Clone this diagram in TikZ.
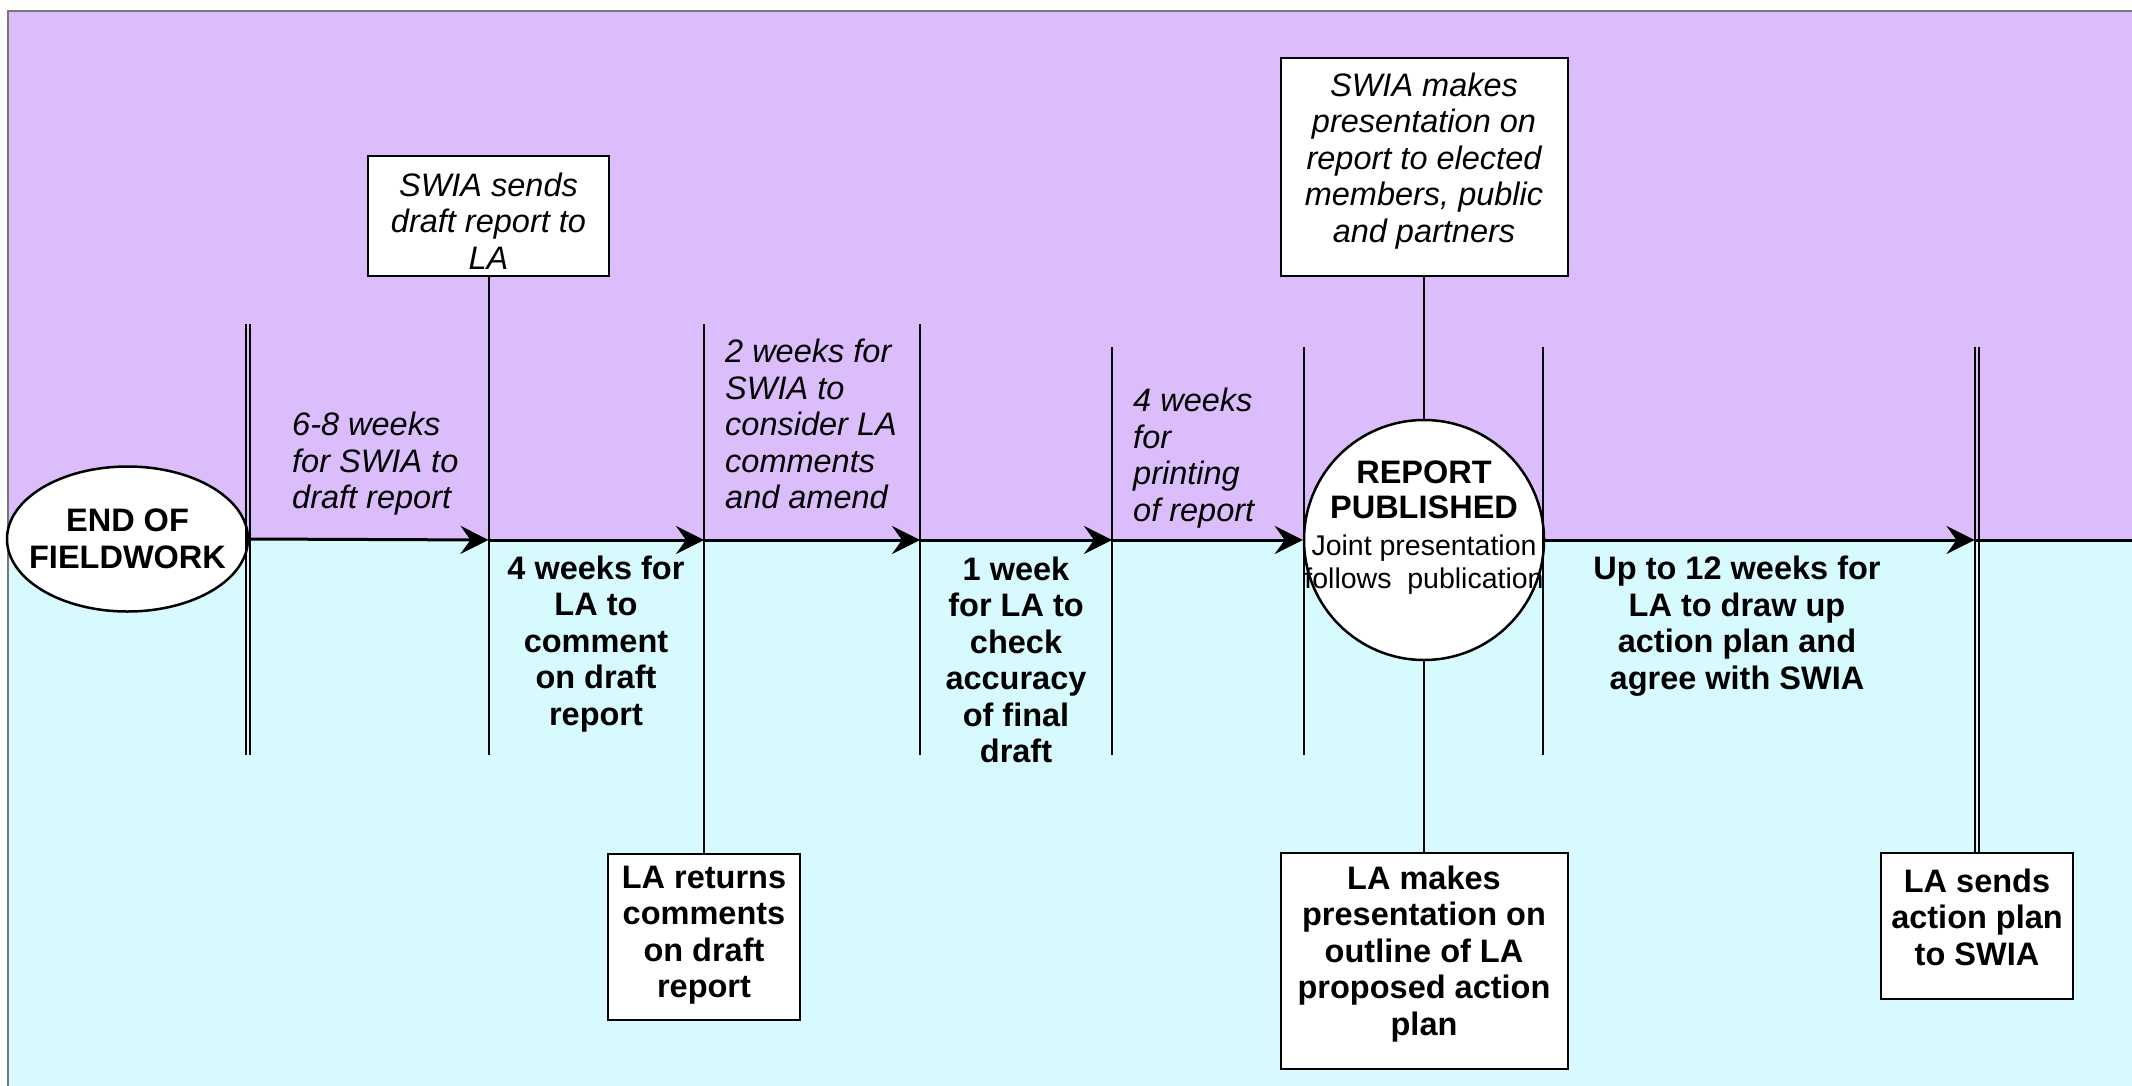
\documentclass[tikz,border=0pt]{standalone}
\usepackage{fontspec}
\setmainfont{Liberation Sans}
\usetikzlibrary{arrows.meta,shapes.geometric}
\definecolor{lav}{RGB}{220,189,251}
\definecolor{aqua}{RGB}{215,250,254}
\definecolor{frame}{RGB}{120,120,120}
\newcommand\tf{\fontsize{32.5}{36.5}\selectfont}
\newcommand\jpf{\fontsize{28.5}{36.5}\selectfont}
\begin{document}
\begin{tikzpicture}[x=1pt,y=-1pt,
  box/.style={draw=black, line width=2pt, fill=white, inner sep=0pt},
  lbl/.style={inner sep=0pt},
  vl/.style={line width=2pt},
  tw/.style={line width=1.5pt},
  ml/.style={line width=3pt},
  arr/.style={ml, -{Stealth[length=28pt,width=28pt,inset=10pt]}},
]
\useasboundingbox (0,0) rectangle (2132,1086);
\fill[white] (0,0) rectangle (2132,1086);
\fill[lav] (8,11) rectangle (2132,540);
\fill[aqua] (8,540) rectangle (2132,1086);
\draw[frame, line width=2.5pt] (8,1086) -- (8,11) -- (2132,11);

% shapes
\node[draw, line width=2.5pt, fill=white, ellipse, minimum width=241pt, minimum height=145pt, inner sep=0pt] (fw) at (127.5,539) {};
\node[circle, draw, line width=2.5pt, fill=white, minimum size=240pt, inner sep=0pt] (pub) at (1424,540) {};
\node[box, minimum width=241pt, minimum height=120pt] (sends) at (488.5,216) {};
\node[box, minimum width=287pt, minimum height=218pt] (swiam) at (1424,167) {};
\node[box, minimum width=192pt, minimum height=166pt] (ret) at (704,937) {};
\node[box, minimum width=287pt, minimum height=216pt] (lam) at (1424,961) {};
\node[box, minimum width=192pt, minimum height=146pt] (las) at (1977,926) {};

% coordinates
\coordinate (m1) at (488.5,540);
\coordinate (m2) at (704,540);
\coordinate (m3) at (920,540);
\coordinate (m4) at (1112,540);
\coordinate (m7) at (1974.5,540);
\coordinate (mend) at (2132,540);
\coordinate (v0t) at (248,324);
\coordinate (v0b) at (248,755);
\coordinate (b1) at (488.5,755);
\coordinate (v2t) at (704,324);
\coordinate (v3t) at (920,324);
\coordinate (v3b) at (920,755);
\coordinate (v4t) at (1112,347);
\coordinate (v4b) at (1112,755);
\coordinate (v5t) at (1304,347);
\coordinate (v5b) at (1304,755);
\coordinate (v6t) at (1543,347);
\coordinate (v6b) at (1543,755);
\coordinate (v7t) at (1977,347);

% vertical lines
\draw[tw] ([xshift=-2.2pt]v0t) -- ([xshift=-2.2pt]v0b);
\draw[tw] ([xshift=2.2pt]v0t) -- ([xshift=2.2pt]v0b);
\draw[vl] (sends.south) -- (b1);
\draw[vl] (v2t) -- (ret.north);
\draw[vl] (v3t) -- (v3b);
\draw[vl] (v4t) -- (v4b);
\draw[vl] (v5t) -- (v5b);
\draw[vl] (v6t) -- (v6b);
\draw[tw] ([xshift=-2.2pt]v7t) -- ([xshift=-2.2pt]las.north);
\draw[tw] ([xshift=2.2pt]v7t) -- ([xshift=2.2pt]las.north);
\draw[vl] (swiam.south) -- (pub.north);
\draw[vl] (pub.south) -- (lam.north);

% main time line
\draw[arr] (fw.east) -- (m1);
\draw[arr] (m1) -- (m2);
\draw[arr] (m2) -- (m3);
\draw[arr] (m3) -- (m4);
\draw[arr] (m4) -- (pub.west);
\draw[arr] (pub.east) -- (m7);
\draw[ml] (m7) -- (mend);

% texts
\node[lbl, align=center, font=\tf\bfseries] (fwt) at (127.5,539) {END OF\\FIELDWORK};
\node[lbl, align=center, font=\tf] (pubt) at (1424,528) {{\bfseries REPORT}\\[-1.5pt]{\bfseries PUBLISHED}\\{\jpf Joint presentation}\\[-3pt]{\jpf follows\ \ publication}};
\node[lbl, align=center, font=\tf\itshape] (sendst) at (488.5,221) {SWIA sends\\draft report to\\LA};
\node[lbl, align=center, font=\tf\itshape] (swiamt) at (1424,161) {SWIA makes\\presentation on\\report to elected\\members, public\\and partners};
\node[lbl, align=center, font=\tf\bfseries] (rett) at (704,935) {LA returns\\comments\\on draft\\report};
\node[lbl, align=center, font=\tf\bfseries] (lamt) at (1424,954) {LA makes\\presentation on\\outline of LA\\proposed action\\plan};
\node[lbl, align=center, font=\tf\bfseries] (last) at (1977,917) {LA sends\\action plan\\to SWIA};
\node[lbl, font=\tf\itshape, align=left, anchor=west] (l1) at (292,464) {6-8 weeks\\for SWIA to\\draft report};
\node[lbl, font=\tf\bfseries, align=center] (l2) at (596,644) {4 weeks for\\LA to\\comment\\on draft\\report};
\node[lbl, font=\tf\itshape, align=left, anchor=west] (l3) at (725,424) {2 weeks for\\SWIA to\\consider LA\\comments\\and amend};
\node[lbl, font=\tf\bfseries, align=center] (l4) at (1016,660) {1 week\\for LA to\\check\\accuracy\\of final\\draft};
\node[lbl, font=\tf\itshape, align=left, anchor=west] (l5) at (1133,458) {4 weeks\\for\\printing\\of report};
\node[lbl, font=\tf\bfseries, align=center] (l6) at (1737,626) {Up to 12 weeks for\\LA to draw up\\action plan and\\agree with SWIA};
\end{tikzpicture}
\end{document}
